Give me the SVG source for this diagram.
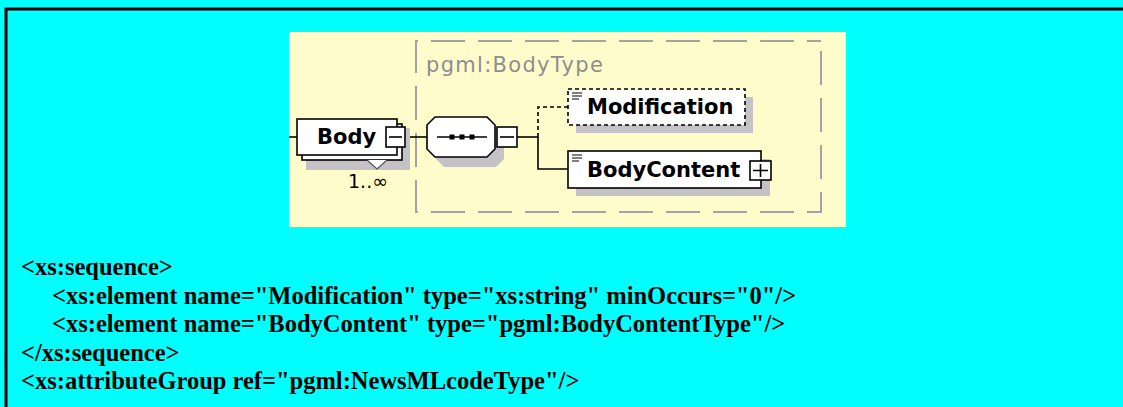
<svg xmlns="http://www.w3.org/2000/svg" width="1123" height="407" viewBox="0 0 1123 407">
  <style>
    .box { fill: #ffffff; stroke: #000000; stroke-width: 1.6; }
    .shadow { fill: #c4c2c6; }
    .line { fill: none; stroke: #000000; stroke-width: 1.6; }
    .dash { fill: none; stroke: #000000; stroke-width: 1.6; stroke-dasharray: 4 3; }
    .name { font-family: "DejaVu Sans", sans-serif; font-weight: bold; font-size: 21px; fill: #000000; }
    .type { font-family: "DejaVu Sans", sans-serif; font-size: 21px; letter-spacing: 1.3px; fill: #8e8e8e; }
    .occ { font-family: "DejaVu Sans", sans-serif; font-size: 19px; fill: #000000; }
    .code { font-family: "Liberation Serif", "Times New Roman", serif; font-weight: bold; font-size: 24.5px; fill: #000000; }
  </style>

  <!-- page background and table edge -->
  <rect x="0" y="0" width="1123" height="407" fill="#00ffff"/>
  <path d="M6,407 V9 H1123" fill="none" stroke="#000000" stroke-width="3"/>

  <!-- schema panel -->
  <rect x="289" y="32" width="557" height="195" fill="#fffccc"/>

  <!-- complex type frame -->
  <g id="bodytype-frame">
    <path d="M821,51 V212 H416 V41 H821" fill="none" stroke="#a3a3a3" stroke-width="2" stroke-dasharray="34 13"/>
    <text class="type" x="426" y="72">pgml:BodyType</text>
  </g>

  <!-- connectors -->
  <g id="connectors">
    <line class="line" x1="289" y1="137" x2="297" y2="137"/>
    <line class="line" x1="405" y1="137" x2="427" y2="137"/>
    <line class="line" x1="517" y1="137" x2="538" y2="137"/>
    <path class="line" d="M538,137 V169 H568"/>
    <path class="dash" d="M538,137 V107 H568"/>
  </g>

  <!-- Body element (1..unbounded) -->
  <g id="node-body">
    <rect class="shadow" x="306" y="128" width="104" height="42"/>
    <rect class="box" x="302" y="124" width="100" height="36"/>
    <rect class="box" x="297" y="119" width="100" height="36"/>
    <polyline points="367,160 377,169 387,160" fill="#ffffff" stroke="#555555" stroke-width="1.2"/>
    <text class="name" x="317" y="144" font-size="20">Body</text>
    <rect class="box" x="386" y="127" width="19" height="20"/>
    <line class="line" x1="389" y1="137" x2="402" y2="137"/>
    <text class="occ" x="348" y="188">1..∞</text>
  </g>

  <!-- sequence compositor -->
  <g id="node-sequence">
    <polygon class="shadow" points="444,127 496,127 504,135 504,159 496,167 444,167 436,159 436,135"/>
    <polygon class="box" points="435,117 487,117 495,125 495,149 487,157 435,157 427,149 427,125"/>
    <line class="line" x1="437" y1="137" x2="487" y2="137"/>
    <rect x="449.5" y="134.5" width="5" height="5" fill="#000000"/>
    <rect x="459.5" y="134.5" width="5" height="5" fill="#000000"/>
    <rect x="469.5" y="134.5" width="5" height="5" fill="#000000"/>
    <rect class="box" x="497" y="127" width="20" height="20"/>
    <line class="line" x1="500" y1="137" x2="514" y2="137"/>
  </g>

  <!-- optional Modification element -->
  <g id="node-modification">
    <rect class="shadow" x="576" y="97" width="177" height="36"/>
    <rect class="box" x="568" y="89" width="177" height="36" stroke-dasharray="4 3"/>
    <path d="M572,93 h10 M572,96 h10 M572,99 h7" stroke="#000000" stroke-width="1"/>
    <text class="name" x="587" y="114">Modification</text>
  </g>

  <!-- BodyContent element -->
  <g id="node-bodycontent">
    <rect class="shadow" x="576" y="159" width="194" height="37"/>
    <rect class="box" x="568" y="151" width="193" height="37"/>
    <path d="M572,155 h10 M572,158 h10 M572,161 h7" stroke="#000000" stroke-width="1"/>
    <text class="name" x="587" y="177">BodyContent</text>
    <rect class="box" x="750" y="161" width="21" height="19"/>
    <path class="line" d="M753,170.5 h15 M760.5,164 v13"/>
  </g>

  <!-- schema source -->
  <g id="schema-source">
    <text class="code" x="21" y="275">&lt;xs:sequence&gt;</text>
    <text class="code" x="52" y="304">&lt;xs:element name="Modification" type="xs:string" minOccurs="0"/&gt;</text>
    <text class="code" x="52" y="332">&lt;xs:element name="BodyContent" type="pgml:BodyContentType"/&gt;</text>
    <text class="code" x="21" y="361">&lt;/xs:sequence&gt;</text>
    <text class="code" x="21" y="389">&lt;xs:attributeGroup ref="pgml:NewsMLcodeType"/&gt;</text>
  </g>
</svg>
